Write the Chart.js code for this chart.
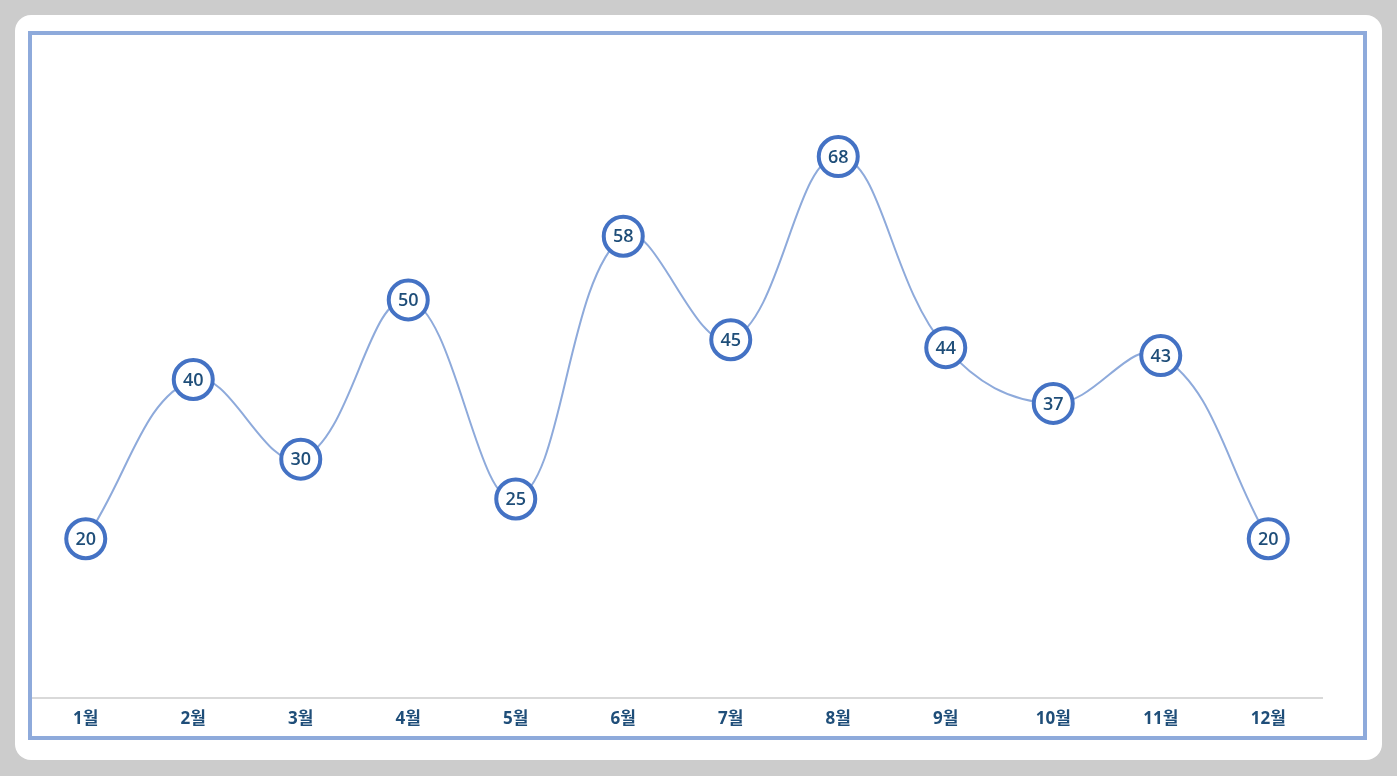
<!DOCTYPE html>
<html>
<head>
<meta charset="utf-8">
<script src="https://cdn.jsdelivr.net/npm/chart.js@4.4.1/dist/chart.umd.min.js"></script>
<style>
    html, body { margin: 0; padding: 0; background: #cccccc; }
    .card {
        position: absolute; left: 15px; top: 15px; width: 1367px; height: 745px;
        background: #ffffff; border-radius: 16px;
    }
    .frame {
        position: absolute; left: 13px; top: 16px; width: 1331px; height: 701px;
        border: 4px solid #8eaadb;
    }
    canvas { display: block; }
</style>
</head>
<body>
<div class="card">
    <div class="frame">
        <canvas id="lineChart" width="1331" height="701"></canvas>
    </div>
</div>
<script>
// Monthly values
const months = ['1월', '2월', '3월', '4월', '5월', '6월', '7월', '8월', '9월', '10월', '11월', '12월'];
const values = [20, 40, 30, 50, 25, 58, 45, 68, 44, 37, 43, 20];

const fontStack = '"Open Sans", "Noto Sans CJK KR", sans-serif';

// Draws the value in the middle of each point
const pointLabels = {
    id: 'pointLabels',
    afterDatasetsDraw(chart) {
        const ctx = chart.ctx;
        const meta = chart.getDatasetMeta(0);
        ctx.save();
        ctx.font = '600 18px ' + fontStack;
        ctx.fillStyle = '#1f4e79';
        ctx.textAlign = 'center';
        ctx.textBaseline = 'middle';
        meta.data.forEach((pt, i) => {
            ctx.fillText(chart.data.datasets[0].data[i], pt.x, pt.y + 1);
        });
        ctx.restore();
    }
};

document.addEventListener('DOMContentLoaded', function() {
    const ctx = document.getElementById('lineChart').getContext('2d');
    new Chart(ctx, {
        type: 'line',
        data: {
            labels: months,
            datasets: [{
                data: values,
                borderColor: '#8eaadb',
                borderWidth: 2,
                tension: 0.4,
                fill: false,
                clip: false,
                pointRadius: 19.5,
                pointHoverRadius: 19.5,
                pointBorderWidth: 4,
                pointBorderColor: '#4472c4',
                pointBackgroundColor: '#ffffff'
            }]
        },
        options: {
            responsive: false,
            animation: false,
            layout: { autoPadding: false, padding: { left: 0, right: 41, top: 26, bottom: 0 } },
            plugins: {
                legend: { display: false },
                tooltip: { enabled: false }
            },
            scales: {
                x: {
                    offset: true,
                    grid: { display: false, drawTicks: false },
                    border: { display: true, color: '#d9d9d9', width: 2 },
                    ticks: {
                        padding: 11,
                        color: '#1f4e79',
                        font: { family: fontStack, size: 17, weight: 'bold' }
                    },
                    afterFit: function(scale) {
                        scale.height = 38;
                    }
                },
                y: {
                    display: false,
                    min: 0,
                    max: 80
                }
            }
        },
        plugins: [pointLabels]
    });
});
</script>
</body>
</html>
